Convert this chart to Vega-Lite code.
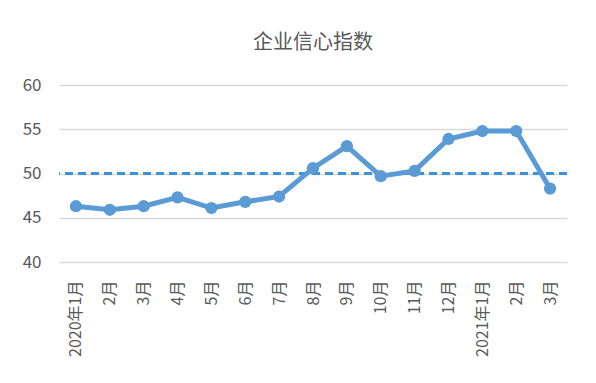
{
  "$schema": "https://vega.github.io/schema/vega-lite/v6.json",
  "width": 508,
  "height": 177,
  "padding": {"left": 22, "top": 33, "right": 29, "bottom": 18},
  "background": "white",
  "title": {
    "text": "企业信心指数",
    "font": "Noto Sans CJK SC",
    "fontSize": 20,
    "fontWeight": "normal",
    "color": "#595959",
    "offset": 23,
    "anchor": "middle"
  },
  "config": {
    "view": {"stroke": null},
    "axis": {
      "labelFont": "Noto Sans CJK SC",
      "labelColor": "#595959",
      "labelFontSize": 16,
      "domain": false,
      "ticks": false,
      "title": null
    }
  },
  "data": {
    "values": [
      {"month": "2020-01-01", "index": 46.3},
      {"month": "2020-02-01", "index": 45.9},
      {"month": "2020-03-01", "index": 46.3},
      {"month": "2020-04-01", "index": 47.3},
      {"month": "2020-05-01", "index": 46.1},
      {"month": "2020-06-01", "index": 46.8},
      {"month": "2020-07-01", "index": 47.4},
      {"month": "2020-08-01", "index": 50.6},
      {"month": "2020-09-01", "index": 53.1},
      {"month": "2020-10-01", "index": 49.7},
      {"month": "2020-11-01", "index": 50.3},
      {"month": "2020-12-01", "index": 53.9},
      {"month": "2021-01-01", "index": 54.8},
      {"month": "2021-02-01", "index": 54.8},
      {"month": "2021-03-01", "index": 48.3}
    ]
  },
  "layer": [
    {
      "mark": {"type": "rule", "color": "#3A92DA", "strokeWidth": 2, "strokeDash": [8, 5]},
      "encoding": {"y": {"datum": 50, "type": "quantitative", "scale": {"domain": [40, 60]}}}
    },
    {
      "mark": {"type": "line", "color": "#5B9BD5", "strokeWidth": 5, "point": {"filled": true, "size": 150, "color": "#5B9BD5", "opacity": 1}},
      "encoding": {
        "x": {
          "field": "month",
          "timeUnit": "utcyearmonth",
          "type": "ordinal",
          "scale": {"padding": 0.5},
          "axis": {
            "labelAngle": -90,
            "labelPadding": 18,
            "grid": false,
            "labelExpr": "utcmonth(datum.value) == 0 ? utcyear(datum.value) + '年1月' : (utcmonth(datum.value) + 1) + '月'"
          }
        },
        "y": {
          "field": "index",
          "type": "quantitative",
          "scale": {"domain": [40, 60]},
          "axis": {"values": [40, 45, 50, 55, 60], "grid": true, "gridColor": "#D9D9D9", "gridWidth": 1.5, "labelPadding": 18, "labelFontSize": 17}
        }
      }
    }
  ]
}
